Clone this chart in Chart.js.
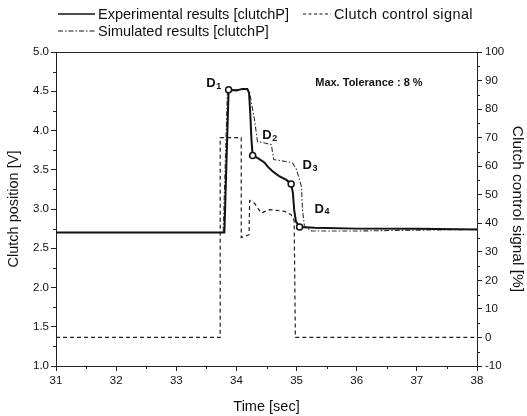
<!DOCTYPE html>
<html>
<head>
<meta charset="utf-8">
<script src="https://cdn.jsdelivr.net/npm/chart.js@4/dist/chart.umd.min.js"></script>
<style>
  html, body { margin: 0; padding: 0; background: #fff; }
  #wrap { position: relative; width: 527px; height: 416px; font-family: "Liberation Sans", Arial, sans-serif; color: #111; }
  #c { position: absolute; left: 0; top: 0; }
  .leg { position: absolute; height: 16px; display: flex; align-items: center; font-size: 14.5px; white-space: nowrap; }
  .leg svg { margin-right: 3px; }
</style>
</head>
<body>
<div id="wrap">
  <canvas id="c" width="527" height="416"></canvas>
  <div class="leg" style="left:58px; top:6px;">
    <svg width="37" height="6"><line x1="0" y1="3" x2="37" y2="3" stroke="#111" stroke-width="1.5"/></svg>
    <span>Experimental results [clutchP]</span>
  </div>
  <div class="leg" style="left:303px; top:6px;">
    <svg width="28" height="6"><line x1="0" y1="3" x2="28" y2="3" stroke="#111" stroke-width="1.2" stroke-dasharray="3,2.5"/></svg>
    <span style="letter-spacing:0.4px">Clutch control signal</span>
  </div>
  <div class="leg" style="left:58px; top:23px;">
    <svg width="37" height="6"><line x1="0" y1="3" x2="37" y2="3" stroke="#111" stroke-width="1.1" stroke-dasharray="5,2,1.5,2"/></svg>
    <span>Simulated results [clutchP]</span>
  </div>
</div>
<script>
// ---- data ----
const expT = [31, 33.80, 33.87, 34.00, 34.10, 34.18, 34.21, 34.23, 34.25, 34.27, 34.35, 34.47, 34.52, 34.60, 34.71, 34.83, 34.91, 34.94, 34.96, 34.99, 35.05, 35.3, 36, 37, 38];
const expV = [2.70, 2.70, 4.52, 4.51, 4.53, 4.53, 4.48, 4.22, 3.88, 3.68, 3.65, 3.59, 3.54, 3.48, 3.42, 3.37, 3.32, 3.20, 2.99, 2.84, 2.77, 2.76, 2.75, 2.75, 2.74];
const markIdx = [2, 9, 16, 20];

const simT = [31, 33.78, 33.85, 34.00, 34.18, 34.22, 34.30, 34.35, 34.47, 34.58, 34.62, 34.93, 35.00, 35.08, 35.10, 35.13, 35.25, 36, 37, 38];
const simV = [2.70, 2.70, 4.50, 4.52, 4.53, 4.48, 4.14, 3.86, 3.84, 3.82, 3.63, 3.59, 3.50, 3.29, 2.99, 2.78, 2.72, 2.72, 2.73, 2.74];

const ctrlT = [31, 33.73, 33.73, 34.08, 34.08, 34.21, 34.22, 34.30, 34.41, 34.55, 34.80, 34.91, 34.96, 34.98, 38];
const ctrlS = [0, 0, 70, 70, 35, 36, 48, 47, 43.6, 44.8, 44.2, 43, 41, 0, 0];

const xTicks = [31, 32, 33, 34, 35, 36, 37, 38];
const leftTicks = [1.0, 1.5, 2.0, 2.5, 3.0, 3.5, 4.0, 4.5, 5.0];
const rightTicks = [-10, 0, 10, 20, 30, 40, 50, 60, 70, 80, 90, 100];

const labels = [
  { main: 'D', sub: '1', t: 33.50, v: 4.60 },
  { main: 'D', sub: '2', t: 34.43, v: 3.94 },
  { main: 'D', sub: '3', t: 35.10, v: 3.55 },
  { main: 'D', sub: '4', t: 35.30, v: 3.00 }
];
const noteText = 'Max. Tolerance : 8 %';
const noteAt = { t: 35.31, v: 4.61 };

const pts = (ts, vs) => ts.map((t, i) => ({ x: t, y: vs[i] }));
const FONT = '"Liberation Sans", Arial, sans-serif';

const framePlugin = {
  id: 'frame',
  afterDraw(chart) {
    const { ctx, chartArea: a, scales } = chart;
    ctx.save();
    ctx.strokeStyle = '#222';
    ctx.lineWidth = 1;
    ctx.beginPath();
    ctx.moveTo(a.left, a.top + 0.5);
    ctx.lineTo(a.right, a.top + 0.5);
    ctx.stroke();
    // minor ticks
    ctx.beginPath();
    for (let i = 0; i < xTicks.length - 1; i++) {
      const px = Math.round(scales.x.getPixelForValue((xTicks[i] + xTicks[i + 1]) / 2)) + 0.5;
      ctx.moveTo(px, a.bottom); ctx.lineTo(px, a.bottom + 3);
    }
    for (let i = 0; i < leftTicks.length - 1; i++) {
      const py = Math.round(scales.y.getPixelForValue((leftTicks[i] + leftTicks[i + 1]) / 2)) + 0.5;
      ctx.moveTo(a.left, py); ctx.lineTo(a.left - 3, py);
    }
    for (let i = 0; i < rightTicks.length - 1; i++) {
      const py = Math.round(scales.y1.getPixelForValue((rightTicks[i] + rightTicks[i + 1]) / 2)) + 0.5;
      ctx.moveTo(a.right, py); ctx.lineTo(a.right + 3, py);
    }
    ctx.stroke();
    // annotations
    ctx.fillStyle = '#111';
    ctx.textBaseline = 'middle';
    labels.forEach(l => {
      const x = scales.x.getPixelForValue(l.t);
      const y = scales.y.getPixelForValue(l.v);
      ctx.font = 'bold 13px ' + FONT;
      ctx.fillText(l.main, x, y);
      const w = ctx.measureText(l.main).width;
      ctx.font = 'bold 9px ' + FONT;
      ctx.fillText(l.sub, x + w + 0.5, y + 3);
    });
    ctx.font = 'bold 11px ' + FONT;
    ctx.fillText(noteText, scales.x.getPixelForValue(noteAt.t), scales.y.getPixelForValue(noteAt.v));
    ctx.restore();
  }
};

new Chart(document.getElementById('c'), {
  type: 'line',
  data: {
    datasets: [
      {
        label: 'Experimental results [clutchP]',
        data: pts(expT, expV),
        yAxisID: 'y',
        borderColor: '#111',
        borderWidth: 2,
        pointRadius: ctx => markIdx.includes(ctx.dataIndex) ? 3 : 0,
        pointBackgroundColor: '#fff',
        pointBorderColor: '#111',
        pointBorderWidth: 1.5,
        tension: 0,
        order: 0
      },
      {
        label: 'Simulated results [clutchP]',
        data: pts(simT, simV),
        yAxisID: 'y',
        borderColor: '#333',
        borderWidth: 1.1,
        borderDash: [5, 2, 1.5, 2],
        pointRadius: 0,
        tension: 0,
        order: 1
      },
      {
        label: 'Clutch control signal',
        data: pts(ctrlT, ctrlS),
        yAxisID: 'y1',
        borderColor: '#222',
        borderWidth: 1.2,
        borderDash: [4, 3],
        pointRadius: 0,
        tension: 0,
        order: 2
      }
    ]
  },
  options: {
    responsive: false,
    animation: false,
    devicePixelRatio: 1,
    layout: { padding: { top: 52, left: 0, right: 0, bottom: 0 } },
    plugins: { legend: { display: false }, tooltip: { enabled: false } },
    scales: {
      x: {
        type: 'linear', position: 'bottom', min: 31, max: 38,
        afterBuildTicks: s => { s.ticks = xTicks.map(v => ({ value: v })); },
        afterFit: s => { s.height = 50; },
        ticks: { color: '#111', font: { family: FONT, size: 11.5 }, padding: 3, maxRotation: 0, callback: v => String(v) },
        grid: { drawOnChartArea: false, tickLength: 5, color: '#222' },
        border: { color: '#222', width: 1 },
        title: { display: true, text: 'Time [sec]', color: '#111', font: { family: FONT, size: 14.5 }, padding: { top: 8, bottom: 0 } }
      },
      y: {
        type: 'linear', position: 'left', min: 1, max: 5,
        afterBuildTicks: s => { s.ticks = leftTicks.map(v => ({ value: v })); },
        afterFit: s => { s.width = 56; },
        ticks: { color: '#111', font: { family: FONT, size: 11.5 }, padding: 2, callback: v => Number(v).toFixed(1) },
        grid: { drawOnChartArea: false, tickLength: 5, color: '#222' },
        border: { color: '#222', width: 1 },
        title: { display: true, text: 'Clutch position [V]', color: '#111', font: { family: FONT, size: 14.5 }, padding: { top: 5, bottom: 0 } }
      },
      y1: {
        type: 'linear', position: 'right', min: -10, max: 100,
        afterBuildTicks: s => { s.ticks = rightTicks.map(v => ({ value: v })); },
        afterFit: s => { s.width = 50; },
        ticks: { color: '#111', font: { family: FONT, size: 11.5 }, padding: 3, callback: v => String(v) },
        grid: { drawOnChartArea: false, tickLength: 5, color: '#222' },
        border: { color: '#222', width: 1 },
        title: { display: true, text: 'Clutch control signal [%]', color: '#111', font: { family: FONT, size: 15.5 }, padding: { top: 0, bottom: 0 } }
      }
    }
  },
  plugins: [framePlugin]
});
</script>
</body>
</html>
